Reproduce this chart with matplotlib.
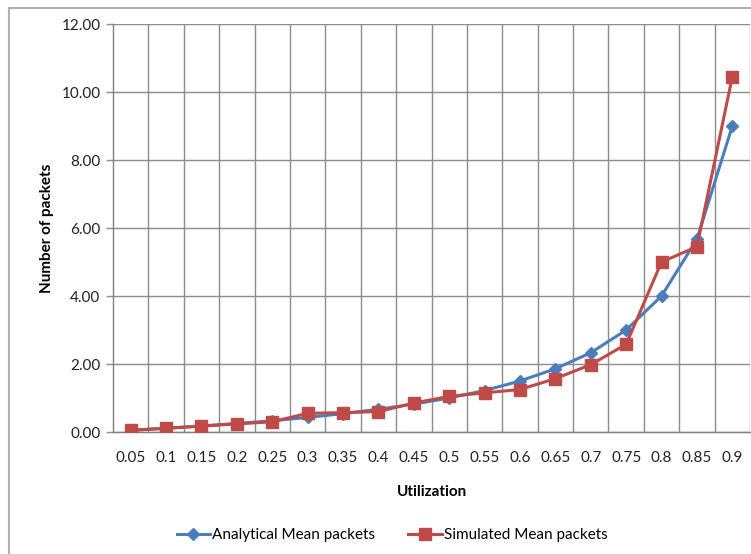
import matplotlib.pyplot as plt
from matplotlib.patches import Rectangle
import numpy as np

plt.rcParams['font.family'] = ['Lato', 'DejaVu Sans']

# utilization levels and mean number of packets in the queue
utilization = ["0.05", "0.1", "0.15", "0.2", "0.25", "0.3", "0.35", "0.4", "0.45",
               "0.5", "0.55", "0.6", "0.65", "0.7", "0.75", "0.8", "0.85", "0.9"]
analytical = [0.05, 0.11, 0.18, 0.25, 0.33, 0.43, 0.54, 0.67, 0.82,
              1.00, 1.22, 1.50, 1.86, 2.33, 3.00, 4.00, 5.67, 9.00]
simulated = [0.05, 0.11, 0.17, 0.24, 0.30, 0.55, 0.57, 0.60, 0.85,
             1.05, 1.15, 1.25, 1.57, 1.98, 2.58, 5.00, 5.45, 10.45]

BLUE = "#4a7ebb"
RED = "#be4b48"
GRID = "#8c8c8c"

fig = plt.figure(figsize=(7.51, 5.54), dpi=100)
ax = fig.add_axes([113 / 751, 122 / 554, 637 / 751, 408 / 554])

# chart border
fig.patches.append(Rectangle((9 / 751, -0.1), 1.0, (554 - 8) / 554 + 0.1,
                             transform=fig.transFigure, fill=False,
                             edgecolor="#b0b0b0", linewidth=1.5))

x = np.arange(len(utilization))
ax.plot(x, analytical, color=BLUE, linewidth=2.2, marker="D", markersize=6,
        label="Analytical Mean packets", zorder=3)
ax.plot(x, simulated, color=RED, linewidth=2.2, marker="s", markersize=8.5,
        label="Simulated Mean packets", zorder=4)

ax.set_xlim(-0.5, len(utilization) - 0.5)
ax.set_ylim(0, 12)
ax.set_yticks(np.arange(0, 12.01, 2))
ax.set_yticklabels([f"{v:.2f}" for v in np.arange(0, 12.01, 2)])
ax.set_xticks(x)
ax.set_xticklabels(utilization)
ax.set_xticks(np.arange(0.5, len(utilization)), minor=True)

ax.grid(axis="y", which="major", color=GRID, linewidth=1)
ax.grid(axis="x", which="minor", color=GRID, linewidth=1)
ax.tick_params(axis="x", which="major", length=0, pad=14, labelsize=11, colors="#222222")
ax.tick_params(axis="x", which="minor", length=0)
ax.tick_params(axis="y", length=5, width=1, color=GRID, labelsize=11, pad=4, colors="#222222")

for side in ("top", "right"):
    ax.spines[side].set_visible(False)
for side in ("left", "bottom"):
    ax.spines[side].set_color("#7f7f7f")
    ax.spines[side].set_linewidth(1)

ax.set_xlabel("Utilization", fontsize=11, fontweight="bold", labelpad=14)
ax.set_ylabel("Number of packets", fontsize=11, fontweight="bold", labelpad=5)

ax.legend(loc="center", bbox_to_anchor=(392 / 751, 19 / 554),
          bbox_transform=fig.transFigure, ncol=2, frameon=False, fontsize=11,
          handlelength=2.2, columnspacing=2.2, handletextpad=0.1)

fig.savefig("out.png", dpi=100)
